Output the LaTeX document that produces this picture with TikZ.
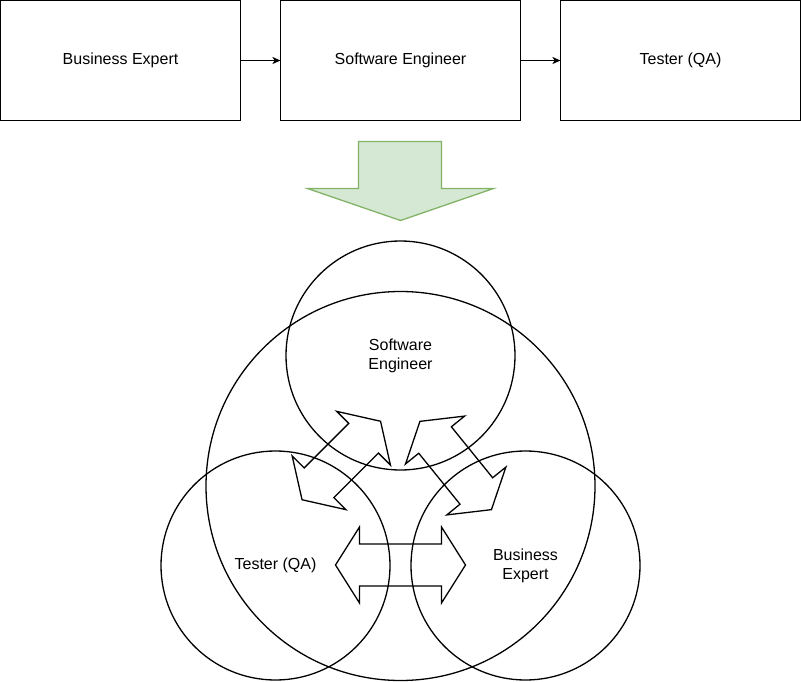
\documentclass[tikz,border=0pt]{standalone}
\usepackage{fontspec}
\setmainfont{Liberation Sans}
\usetikzlibrary{arrows.meta}
\usetikzlibrary{positioning}

\definecolor{greenfill}{HTML}{D5E8D4}
\definecolor{greenline}{HTML}{82B366}

\begin{document}
\begin{tikzpicture}[x=1pt,y=-1pt,line width=1.3pt,
    role/.style={draw,rectangle,minimum width=240pt,minimum height=120pt,
      inner sep=0pt,outer sep=0pt,align=center},
    zone/.style={draw,circle,inner sep=0pt,outer sep=0pt,align=center},
    handoff/.style={-{Stealth[length=8pt,width=7pt,inset=2pt]}},
    every node/.append style={font=\fontsize{16}{19.2}\selectfont}]
      \useasboundingbox (-0.5,-0.5) rectangle (800.5,681.5);
      % the old chain
      \node[role] (beBox) at (120,60) {Business Expert};
      \node[role] (seBox) at (400,60) {Software Engineer};
      \node[role] (qaBox) at (680,60) {Tester (QA)};
      \draw[handoff] (beBox) -- (seBox);
      \draw[handoff] (seBox) -- (qaBox);
      % big green arrow
      \draw[greenline,fill=greenfill] (358,141) -- (441,141) -- (441,188) -- (493,188)
            -- (400,220) -- (307,188) -- (358,188) -- cycle;
      % one team
      \node[zone,minimum size=389pt] (team) at (400,485.5) {};
      \node[zone,minimum size=229pt] (seZone) at (400,355) {Software\\Engineer};
      \node[zone,minimum size=229pt] (qaZone) at (275,565) {Tester (QA)};
      \node[zone,minimum size=229pt] (beZone) at (525,565) {Business\\Expert};
      \foreach \cx/\cy/\ang/\len in {340.8/460/45/55.5, 455.2/465/-51/56.8, 400/564.5/0/65} {
	\draw[shift={(\cx,\cy)},rotate=\ang] (-\len,0) -- (-\len+24,38) -- (-\len+24,21)
	      -- (\len-24,21) -- (\len-24,38) -- (\len,0) -- (\len-24,-38) -- (\len-24,-21)
	      -- (-\len+24,-21) -- (-\len+24,-38) -- cycle;
      }
\end{tikzpicture}
\end{document}
